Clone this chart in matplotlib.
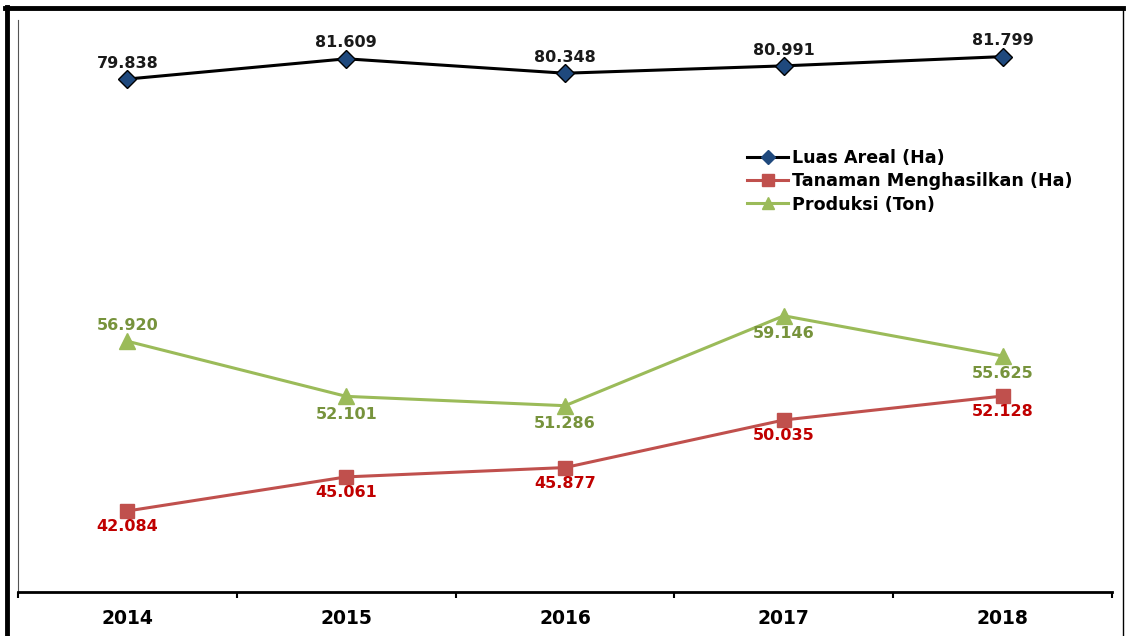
import matplotlib.pyplot as plt
from matplotlib.lines import Line2D

years = ["2014", "2015", "2016", "2017", "2018"]
luas_areal = [79.838, 81.609, 80.348, 80.991, 81.799]
tanaman = [42.084, 45.061, 45.877, 50.035, 52.128]
produksi = [56.920, 52.101, 51.286, 59.146, 55.625]

# label placement: +1 above, -1 below
produksi_pos = [1, -1, -1, -1, -1]

plt.rcParams["font.family"] = ["DejaVu Sans"]

fig = plt.figure(figsize=(11.26, 6.36), dpi=100)
W, H = 1126, 636
ax = fig.add_axes([18 / W, 1 - 592 / H, (1112 - 18) / W, (592 - 20) / H])

x = list(range(len(years)))
ax.plot(x, luas_areal, color="black", lw=2.2, marker="D", ms=9,
        mfc="#1F497D", mec="black", mew=1.0, label="Luas Areal (Ha)", zorder=3)
ax.plot(x, tanaman, color="#C0504D", lw=2.2, marker="s", ms=10,
        mfc="#C0504D", mec="#C0504D", label="Tanaman Menghasilkan (Ha)", zorder=3)
ax.plot(x, produksi, color="#9BBB59", lw=2.2, marker="^", ms=11,
        mfc="#9BBB59", mec="#9BBB59", label="Produksi (Ton)", zorder=3)


def fmt(v):
    return f"{v:.3f}"


lab = dict(ha="center", fontsize=11.5, fontweight="bold", textcoords="offset points")
for i, v in enumerate(luas_areal):
    ax.annotate(fmt(v), (i, v), xytext=(0, 6), va="bottom", color="#1a1a1a", **lab)
for i, v in enumerate(tanaman):
    ax.annotate(fmt(v), (i, v), xytext=(0, -6), va="top", color="#C00000", **lab)
for i, v in enumerate(produksi):
    if produksi_pos[i] > 0:
        ax.annotate(fmt(v), (i, v), xytext=(0, 6), va="bottom", color="#77933C", **lab)
    else:
        ax.annotate(fmt(v), (i, v), xytext=(0, -7.5), va="top", color="#77933C", **lab)

ax.set_xlim(-0.5, len(years) - 0.5)
ax.set_ylim(35, 85)
ax.set_yticks([])
ax.set_xticks([i - 0.5 for i in range(len(years) + 1)], minor=False)
ax.set_xticklabels([])
ax.set_xticks(x, minor=True)
ax.set_xticklabels(years, minor=True, fontsize=13.5, fontweight="bold")
ax.tick_params(axis="x", which="major", length=4, width=1.5, direction="out")
ax.tick_params(axis="x", which="minor", length=0, pad=12)

for s in ["top", "right"]:
    ax.spines[s].set_visible(False)
ax.spines["bottom"].set_linewidth(2.0)
ax.spines["left"].set_linewidth(0.8)
ax.spines["left"].set_color("#555555")

handles = [
    Line2D([], [], color="black", lw=2.2, marker="D", ms=7, mfc="#1F497D", mec="#1F497D"),
    Line2D([], [], color="#C0504D", lw=2.2, marker="s", ms=9, mfc="#C0504D", mec="#C0504D"),
    Line2D([], [], color="#9BBB59", lw=2.2, marker="^", ms=9, mfc="#9BBB59", mec="#9BBB59"),
]
ax.legend(handles, ["Luas Areal (Ha)", "Tanaman Menghasilkan (Ha)", "Produksi (Ton)"],
          loc="upper left", bbox_to_anchor=((747 - 18) / (1112 - 18), 1 - (149 - 20) / 572),
          frameon=False, prop={"weight": "bold", "size": 12.6}, handlelength=2.35,
          handletextpad=0.25, labelspacing=0.3, borderaxespad=0, borderpad=0)

# outer frame
fig.add_artist(Line2D([6.5 / W, 6.5 / W], [0, 1 - 7 / H], color="black", lw=3.5, transform=fig.transFigure))
fig.add_artist(Line2D([5 / W, 1123 / W], [1 - 7.5 / H, 1 - 7.5 / H], color="black", lw=3.5, transform=fig.transFigure))
fig.add_artist(Line2D([1123 / W, 1123 / W], [0, 1 - 7.5 / H], color="black", lw=1.0, transform=fig.transFigure))

fig.savefig("out.png", dpi=100)
